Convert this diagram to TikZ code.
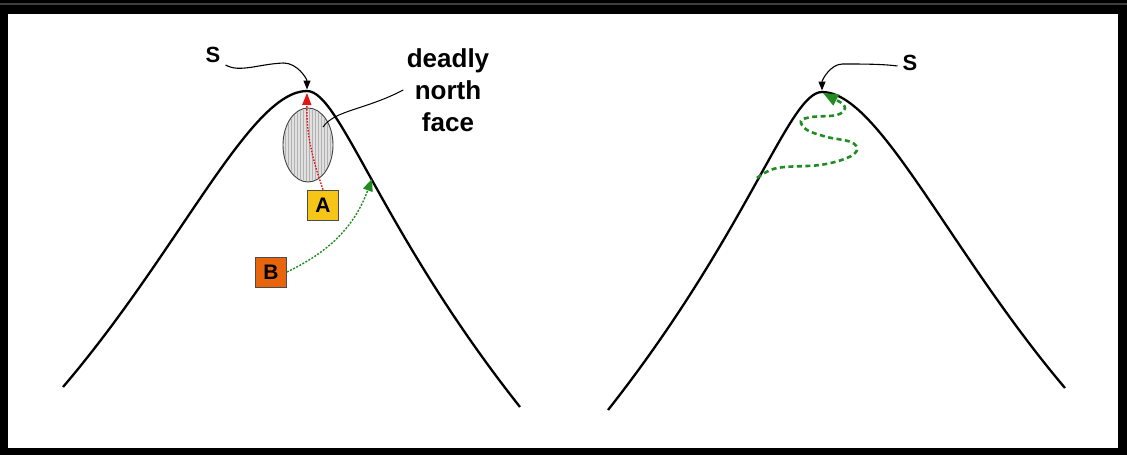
\documentclass[tikz,border=0pt]{standalone}
\usepackage{fontspec}
\setmainfont{Liberation Sans}
\usetikzlibrary{arrows.meta,calc,shapes.geometric,patterns}
\definecolor{ClimbRed}{rgb}{0.9,0.08,0.08}
\definecolor{ClimbGreen}{rgb}{0.13,0.55,0.13}
\definecolor{BoxAClr}{HTML}{F5C518}
\definecolor{BoxBClr}{HTML}{E8650C}

\begin{document}
\begin{tikzpicture}[x=1pt,y=-1pt,
  ridge/.style={line width=2.3pt,black},
  pointer/.style={line width=1.1pt,-{Triangle[length=9pt,width=7pt]}},
  letterbox/.style={draw=black!70,line width=0.8pt,minimum width=31pt,minimum height=30pt,
    inner sep=0pt,font=\fontsize{21}{21}\selectfont\bfseries},
  redroute/.style={ClimbRed,line width=1.4pt,dash pattern=on 1.6pt off 1.4pt,
    -{Triangle[length=12pt,width=9pt]}},
  greenroute/.style={ClimbGreen,line width=1.4pt,dash pattern=on 2pt off 1.5pt,
    -{Triangle[length=12pt,width=10pt]}},
  zigzag/.style={ClimbGreen,line width=2.6pt,dash pattern=on 5pt off 3.5pt,
    -{Triangle[length=15pt,width=12pt]}},
  lbl/.style={inner sep=1pt,font=\fontsize{22}{22}\selectfont\bfseries}]

% frame
\useasboundingbox (0,0) rectangle (1127,455);
\fill[black] (0,0) rectangle (1127,455);
\draw[black!75,line width=1.5pt] (0,4) -- (1127,4);
\fill[white] (8,14) rectangle (1118,448);

\coordinate (peakL) at (307,91);
\coordinate (peakR) at (822,92);
\coordinate (slopeL) at (372,179);
\coordinate (faceIn) at (323,127);

% left mountain
\node[ellipse,draw=black!75,line width=0.9pt,fill=black!12,
  minimum width=50pt,minimum height=74pt,inner sep=0pt] (face) at (308,145) {};
\fill[pattern=vertical lines,pattern color=black!30] (face.center) ellipse [x radius=24,y radius=36];
\draw[ridge] (63,387) .. controls (180,250) and (250,91) .. (peakL)
  .. controls (340,91) and (380,230) .. (520,407);

\node[lbl] (sL) at (213,55) {S};
\node[align=center,font=\fontsize{26}{32}\selectfont\bfseries] (faceLbl) at (448,90) {deadly\\north\\face};
\node[letterbox,fill=BoxAClr] (boxA) at (323,205) {A};
\node[letterbox,fill=BoxBClr] (boxB) at (271,272) {B};

\draw[pointer,shorten >=1.5pt] ($(sL.east)+(4,10)$) .. controls +(14,8) and +(-25,1) .. ++(58,-2)
  .. controls +(14,0) and +(0,-12) .. (peakL);
\draw[line width=1pt] (faceIn) .. controls (335,110) and (365,110) .. (faceLbl.west);

\draw[redroute,shorten >=2pt] (boxA.north) to[bend left=10] (peakL);
\draw[greenroute] (boxB.east) to[bend right=22] (slopeL);

% right mountain
\draw[ridge] (608,410) .. controls (749,231) and (789,92) .. (peakR)
  .. controls (879,92) and (949,251) .. (1065,388);

\node[lbl] (sR) at (910,63) {S};
\draw[pointer,shorten >=1.5pt] ($(sR.west)+(-4,3)$) .. controls +(-15,-2) and +(20,0) .. ++(-55,-2)
  .. controls +(-12,0) and +(0,-12) .. (peakR);

\draw[zigzag] plot[smooth,tension=0.6] coordinates {(757,178) (777,168) (820,165) (847,158)
  (857,150) (851,142) (827,137) (807,130) (801,121) (812,117) (837,115) (845,108) (840,102)}
  -- (823,93);

\end{tikzpicture}
\end{document}
